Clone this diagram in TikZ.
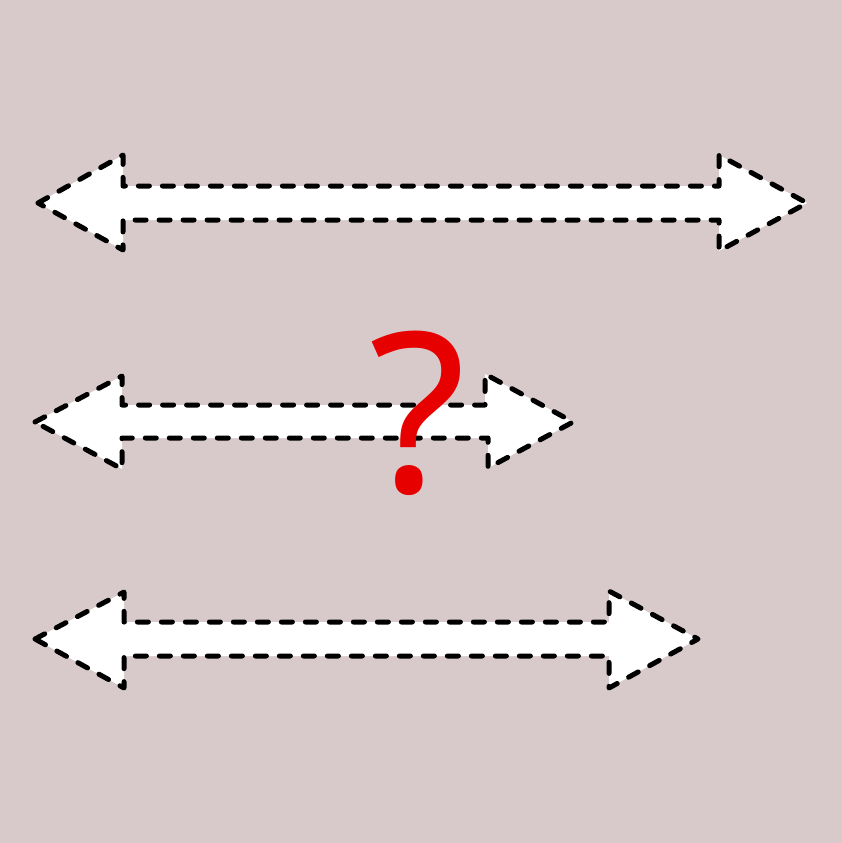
\documentclass[tikz,border=0pt]{standalone}
\usepackage{fontspec}
\setmainfont{Noto Sans}
\definecolor{bg}{RGB}{216,202,202}
\definecolor{qred}{RGB}{230,0,0}
\tikzset{
  dblarrow/.style={draw=black, fill=white, line width=5pt, dash pattern=on 11pt off 13pt, line cap=round, line join=round},
  qmark/.style={text=qred, font=\fontsize{223}{223}\selectfont, inner sep=0pt, anchor=base}
}
\begin{document}
\begin{tikzpicture}[x=1pt,y=-1pt]
\fill[bg] (0,0) rectangle (842,843);
\useasboundingbox (0,0) rectangle (842,843);
% arrow 1
\draw[dblarrow] (38,203) -- (123,155) -- (123,186) -- (719,186) -- (719,155) -- (807,203) -- (719,251) -- (719,220) -- (123,220) -- (123,250) -- cycle;
% arrow 2
\draw[dblarrow] (35,422) -- (122,376) -- (122,405) -- (485,405) -- (485,374) -- (573,422) -- (488,468) -- (488,438) -- (122,438) -- (122,469) -- cycle;
% arrow 3
\draw[dblarrow] (35,639) -- (124,592) -- (124,622) -- (609,622) -- (609,591) -- (698,639) -- (609,688) -- (609,656) -- (124,656) -- (124,688) -- cycle;
\node[qmark] (q) at (418,492) {?};
\end{tikzpicture}
\end{document}
